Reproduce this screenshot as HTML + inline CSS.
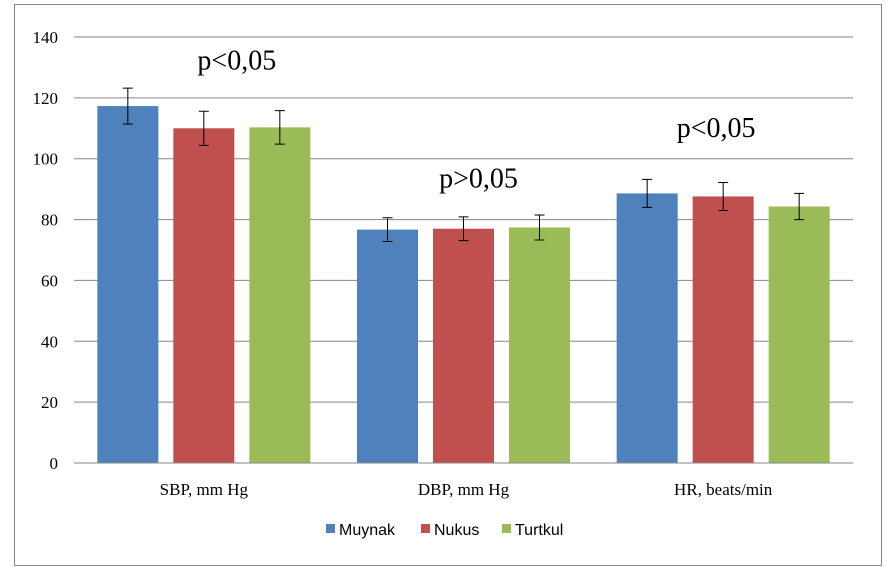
<!DOCTYPE html>
<html><head><meta charset="utf-8"><style>
body{margin:0;background:#fff;}
svg text{font-family:"Liberation Serif",serif;}
</style></head><body>
<svg id="chart" width="888" height="575">
<rect x="14.5" y="4.5" width="867" height="561" fill="#fff" stroke="#868686" stroke-width="1"/>
</svg>
<script>
const categories=["SBP, mm Hg","DBP, mm Hg","HR, beats/min"];
const seriesNames=["Muynak","Nukus","Turtkul"];
const colors=["#4f81bd","#c0504d","#9bbb59"];
const muynak=[117.3,76.7,88.6];
const nukus=[110,77,87.6];
const turtkul=[110.3,77.4,84.3];
const muynakErr=[5.9,3.9,4.6];
const nukusErr=[5.6,3.9,4.6];
const turtkulErr=[5.5,4.1,4.3];
const yTicks=[0,20,40,60,80,100,120,140];
const pLabels=["p<0,05","p>0,05","p<0,05"];
const pValuesY=[129.3,90.5,107.2];
const pOffsets=[33,15,-7];

const svg=document.getElementById('chart');
const NS='http://www.w3.org/2000/svg';
const x0=74,x1=853,y0=463,yTop=37,yMax=140;
const y=v=>y0-(v/yMax)*(y0-yTop);
const gw=(x1-x0)/categories.length;
const bw=61,gap=15;
const groupStart=i=>x0+i*gw+(gw-(3*bw+2*gap))/2;
function mk(tag,attrs){const e=document.createElementNS(NS,tag);for(const k in attrs)e.setAttribute(k,attrs[k]);svg.appendChild(e);return e;}

yTicks.forEach(t=>{
  const l=mk('line',{x1:x0,x2:x1,y1:y(t),y2:y(t),stroke:'#868686','stroke-width':1});
  
  
  const tx=mk('text',{x:58,y:y(t)+6,'text-anchor':'end','font-size':17,fill:'#000'});
  tx.textContent=t;
  
  
});

const vals=[muynak,nukus,turtkul],errs=[muynakErr,nukusErr,turtkulErr];
categories.forEach((c,i)=>{
  const gs=groupStart(i);
  vals.forEach((s,j)=>{
    const bx=gs+j*(bw+gap);
    const r=mk('rect',{x:bx,y:y(s[i]),width:bw,height:y0-y(s[i]),fill:colors[j]});
    
    
    const cx=bx+bw/2,hi=y(s[i]+errs[j][i]),lo=y(s[i]-errs[j][i]);
    const g=mk('path',{d:`M${cx} ${hi}V${lo}M${cx-5} ${hi}H${cx+5}M${cx-5} ${lo}H${cx+5}`,stroke:'#000','stroke-width':1,fill:'none'});
    
    
  });
  const t=mk('text',{x:x0+i*gw+gw/2,y:495,'text-anchor':'middle','font-size':17,fill:'#000'});
  t.textContent=c;
  
  
  const p=mk('text',{x:x0+i*gw+gw/2+pOffsets[i],y:y(pValuesY[i]),'text-anchor':'middle','font-size':28,fill:'#000'});
  p.textContent=pLabels[i];
  
  
});
mk('line',{x1:x0,x2:x1,y1:y0,y2:y0,stroke:'#868686'});

const lx=[326,421,502];
seriesNames.forEach((n,j)=>{
  const r=mk('rect',{x:lx[j],y:524,width:9,height:9,fill:colors[j]});
  
  
  const t=mk('text',{x:lx[j]+13,y:535,'font-size':16,fill:'#000'});
  t.textContent=n;
  t.setAttribute('style','font-family:"Liberation Sans",sans-serif');
  
  
});
</script>
</body></html>
